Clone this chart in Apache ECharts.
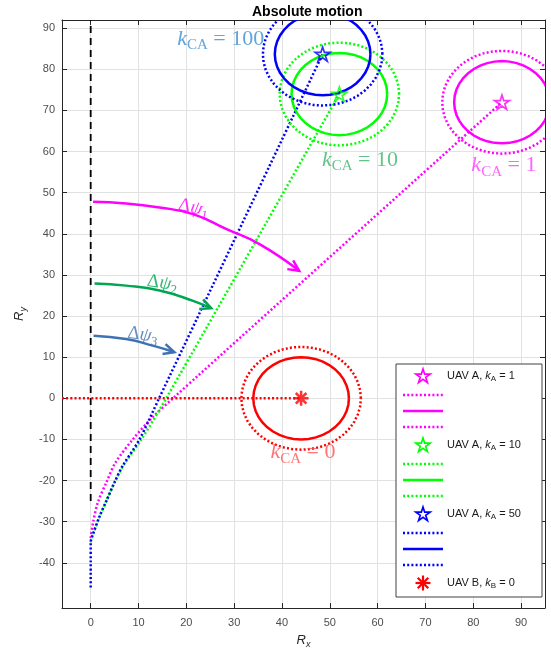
<!DOCTYPE html>
<html>
<head>
<meta charset="utf-8">
<script src="https://cdn.jsdelivr.net/npm/echarts@6/dist/echarts.min.js"></script>
<style>
  html, body { margin: 0; padding: 0; background: #fff; }
  #chart { width: 551px; height: 654px; }
</style>
</head>
<body>
<div id="chart"></div>
<script>
// ---- axis extents and ticks ----
const xExtent = [-6, 95];
const yExtent = [-51, 92];
const xTicks = [0, 10, 20, 30, 40, 50, 60, 70, 80, 90];
const yTicks = [-40, -30, -20, -10, 0, 10, 20, 30, 40, 50, 60, 70, 80, 90];

// ---- trajectories ----
const pathA1 = [[0, -34], [0.5, -30.2], [1.5, -25.3], [3.3, -20.4], [5.2, -15.6], [8.8, -10], [12.6, -5], [17.2, 0], [86, 72]];
const pathA10 = [[0, -35], [0.5, -33], [1.9, -28.6], [3.3, -24.9], [5, -20.4], [6.8, -16.4], [10.6, -10], [15.8, 0], [52, 74]];
const pathA50 = [[0, -46], [0, -40], [0, -35], [0.5, -33], [1.9, -28.6], [3.3, -24.9], [5, -20.4], [6.7, -16.4], [10.2, -10], [14.3, 0], [48.5, 83.7]];
const pathB0 = [[-6, 0], [44, 0]];
const refLineX0 = [[0, -25], [0, 92]];

// ---- final positions ----
const posA1 = [86, 72];
const posA10 = [52, 74];
const posA50 = [48.5, 83.7];
const posB0 = [44, 0];

// ---- safety circles ----
const innerRadius = 10;
const outerRadius = 12.5;

// ---- heading-change arcs ----
const arcPsi1 = [[0.5, 47.8], [7.4, 47.4], [14.4, 46.4], [21.4, 44.8], [28.3, 41.2], [35.3, 37.5], [43.6, 31.0]];
const arcPsi2 = [[0.8, 27.9], [7.4, 27.4], [14.4, 26.2], [21.4, 23.7], [25.2, 21.9]];
const arcPsi3 = [[0.6, 15.2], [7.4, 14.4], [13, 12.8], [17.5, 11.2]];

// ---- text annotations ----
const gainLabels = [
  [27.2, 87.4, '100'],
  [56.3, 58.0, '10'],
  [86.4, 56.6, '1'],
  [44.4, -13.1, '0']
];
const psiLabels = [
  [21.5, 46.3, '1', -12],
  [15.0, 28.0, '2', -8],
  [10.9, 15.4, '3', -8]
];

// ---- legend entries ----
const legendGains = ['1', '10', '50'];

const MAGENTA = '#ff00ff', GREEN = '#00ff00', BLUE = '#0000ff', RED = '#ff0000';
const gainLabelColors = ['#3a8fd3', '#3cb56b', '#ff3cff', '#ff5252'];
const psiColors = ['#ff00ff', '#00a651', '#3f72b5'];

// unit pentagram outline (outer radius 1)
const STAR_PTS = [[0, -1], [0.2245, -0.309], [0.951, -0.309], [0.3633, 0.118], [0.588, 0.809], [0, 0.382], [-0.588, 0.809], [-0.3633, 0.118], [-0.951, -0.309], [-0.2245, -0.309]];
const STAR = 'M' + STAR_PTS.map(p => p.join(',')).join(' L') + ' Z';
const ASTER_SEGS = [[-1, 0, 1, 0], [0, -1, 0, 1], [-0.707, -0.707, 0.707, 0.707], [-0.707, 0.707, 0.707, -0.707]];
const ASTER = ASTER_SEGS.map(s => 'M' + s[0] + ',' + s[1] + ' L' + s[2] + ',' + s[3]).join(' ');

const chart = echarts.init(document.getElementById('chart'), null, { renderer: 'canvas' });

const serif = 'Liberation Serif';
const sans = 'Liberation Sans';

function dottedLine(name, data, color) {
  return {
    name, type: 'line', data, showSymbol: false, symbol: 'none', smooth: 0.3,
    lineStyle: { color, width: 2.5, type: [2, 2.2] }, z: 3, silent: true
  };
}

function circleSeries() {
  const items = [];
  const centers = [posA1, posA10, posA50, posB0];
  const colors = [MAGENTA, GREEN, BLUE, RED];
  centers.forEach((c, i) => {
    items.push({ value: [c[0], c[1], outerRadius, 1], color: colors[i] });
    items.push({ value: [c[0], c[1], innerRadius, 0], color: colors[i] });
  });
  return {
    type: 'custom', coordinateSystem: 'cartesian2d', clip: true, z: 4, silent: true,
    data: items.map(d => d.value),
    renderItem(params, api) {
      const cx = api.value(0), cy = api.value(1), r = api.value(2), dotted = api.value(3);
      const pts = [];
      const N = 40;
      for (let k = 0; k <= N; k++) {
        const a = 2 * Math.PI * k / N;
        pts.push(api.coord([cx + r * Math.cos(a), cy + r * Math.sin(a)]));
      }
      return {
        type: 'polyline', shape: { points: pts },
        style: { stroke: items[params.dataIndex].color, lineWidth: 2.5, fill: null, lineDash: dotted ? [2, 2.2] : null }
      };
    }
  };
}

function arcSeries(data, color) {
  return {
    type: 'line', data, symbol: 'none', smooth: true, silent: true, z: 5,
    lineStyle: { color, width: 2.5 }
  };
}

function arrowHeads() {
  const arcs = [arcPsi1, arcPsi2, arcPsi3];
  const data = arcs.map(a => {
    const tip = a[a.length - 1], prev = a[a.length - 2];
    return [tip[0], tip[1], prev[0], prev[1]];
  });
  return {
    type: 'custom', coordinateSystem: 'cartesian2d', clip: false, z: 5, silent: true,
    data,
    renderItem(params, api) {
      const tip = api.coord([api.value(0), api.value(1)]);
      const from = api.coord([api.value(2), api.value(3)]);
      const ang = Math.atan2(tip[1] - from[1], tip[0] - from[0]);
      const L = 12, h = 0.45;
      const p1 = [tip[0] - L * Math.cos(ang - h), tip[1] - L * Math.sin(ang - h)];
      const p2 = [tip[0] - L * Math.cos(ang + h), tip[1] - L * Math.sin(ang + h)];
      return {
        type: 'polyline', shape: { points: [p1, tip, p2] },
        style: { stroke: psiColors[params.dataIndex], lineWidth: 2.5, fill: null }
      };
    }
  };
}

function starSeries(pos, color) {
  return {
    type: 'scatter', data: [pos], symbol: 'path://' + STAR, symbolSize: 15, symbolKeepAspect: true,
    itemStyle: { color: 'rgba(255,255,255,0)', borderColor: color, borderWidth: 1.7 }, z: 6, silent: true
  };
}

function gainLabelSeries() {
  return {
    type: 'scatter', symbolSize: 0, silent: true, z: 7,
    data: gainLabels.map((g, i) => ({
      value: [g[0], g[1]],
      label: {
        show: true, position: 'inside',
        formatter: '{k|k}{s|CA}{n| = ' + g[2] + '}',
        rich: {
          k: { fontFamily: serif, fontStyle: 'italic', fontSize: 22, color: gainLabelColors[i], lineHeight: 28, verticalAlign: 'middle' },
          s: { fontFamily: serif, fontSize: 15, color: gainLabelColors[i], lineHeight: 19, verticalAlign: 'bottom' },
          n: { fontFamily: serif, fontSize: 22, color: gainLabelColors[i], lineHeight: 28, verticalAlign: 'middle' }
        }
      }
    }))
  };
}

function psiLabelSeries() {
  return {
    type: 'scatter', symbolSize: 0, silent: true, z: 7,
    data: psiLabels.map((p, i) => ({
      value: [p[0], p[1]],
      label: {
        show: true, position: 'inside', rotate: p[3],
        formatter: '{d|Δ}{p|ψ}{s|' + p[2] + '}',
        rich: {
          d: { fontFamily: serif, fontSize: 19, color: psiColors[i], lineHeight: 24, verticalAlign: 'middle' },
          p: { fontFamily: serif, fontStyle: 'italic', fontSize: 19, color: psiColors[i], lineHeight: 24, verticalAlign: 'middle' },
          s: { fontFamily: serif, fontSize: 13, color: psiColors[i], lineHeight: 14, verticalAlign: 'bottom' }
        }
      }
    }))
  };
}

// ---- legend drawn as a graphic box ----
function legendGraphic() {
  const children = [];
  const Z = 100;
  const left = 396, top = 364, w = 146, h = 233;
  children.push({ type: 'rect', z: Z, shape: { x: left, y: top, width: w, height: h }, style: { fill: '#fff', stroke: '#404040', lineWidth: 1 } });
  const colors = [MAGENTA, GREEN, BLUE];
  const symX = 423, lx0 = 403, lx1 = 443, tx = 447, R = 7.5;
  const textRich = {
    n: { fontFamily: sans, fontSize: 11, fill: '#1a1a1a', lineHeight: 14, verticalAlign: 'middle' },
    i: { fontFamily: sans, fontStyle: 'italic', fontSize: 11, fill: '#1a1a1a', lineHeight: 14, verticalAlign: 'middle' },
    s: { fontFamily: sans, fontSize: 8, fill: '#1a1a1a', lineHeight: 8, verticalAlign: 'bottom' }
  };
  legendGains.forEach((g, k) => {
    const base = 376 + k * 69;
    children.push({
      type: 'polygon', z: Z + 1, shape: { points: STAR_PTS.map(p => [symX + R * p[0], base + 0.5 + R * p[1]]) },
      style: { fill: null, stroke: colors[k], lineWidth: 1.7 }
    });
    children.push({ type: 'text', z: Z + 1, x: tx, y: base, style: { text: '{n|UAV A, }{i|k}{s|A}{n| = ' + g + '}', rich: textRich, verticalAlign: 'middle', align: 'left' } });
    [19, 35, 51].forEach((dy, j) => {
      children.push({ type: 'line', z: Z + 1, shape: { x1: lx0, y1: base + dy, x2: lx1, y2: base + dy }, style: { stroke: colors[k], lineWidth: 2.5, lineDash: j === 1 ? null : [2, 2.2] } });
    });
  });
  const rb = 376 + 3 * 69;
  ASTER_SEGS.forEach(s => {
    children.push({ type: 'line', z: Z + 1, shape: { x1: symX + R * s[0], y1: rb + R * s[1], x2: symX + R * s[2], y2: rb + R * s[3] }, style: { stroke: RED, lineWidth: 2.2 } });
  });
  children.push({ type: 'text', z: Z + 1, x: tx, y: rb, style: { text: '{n|UAV B, }{i|k}{s|B}{n| = 0}', rich: textRich, verticalAlign: 'middle', align: 'left' } });
  return { type: 'group', z: Z, children };
}

const axisLineStyle = { color: '#262626', width: 1 };
const nameRich = {
  r: { fontFamily: sans, fontStyle: 'italic', fontSize: 13, color: '#262626', lineHeight: 18, verticalAlign: 'middle' },
  s: { fontFamily: sans, fontStyle: 'italic', fontSize: 9, color: '#262626', lineHeight: 10, verticalAlign: 'bottom' }
};

chart.setOption({
  animation: false,
  backgroundColor: '#fff',
  title: {
    text: 'Absolute motion', left: 247, top: 0,
    textStyle: { fontFamily: sans, fontSize: 14, fontWeight: 'bold', color: '#000' }
  },
  grid: { left: 62, right: 6, top: 20, bottom: 46, containLabel: false },
  xAxis: [
    {
      type: 'value', position: 'bottom', min: xExtent[0], max: xExtent[1], splitNumber: 10,
      axisLine: { show: true, onZero: false, lineStyle: axisLineStyle },
      axisTick: { show: true, inside: true, length: 5, customValues: xTicks, lineStyle: axisLineStyle },
      axisLabel: { customValues: xTicks, color: '#4d4d4d', fontSize: 11, fontFamily: sans, margin: 9 },
      splitLine: { show: true, lineStyle: { color: '#e2e2e2', width: 1 } },
      name: '{r|R}{s|x}', nameLocation: 'middle', nameGap: 23, nameTextStyle: { rich: nameRich }
    },
    {
      type: 'value', position: 'top', min: xExtent[0], max: xExtent[1], splitNumber: 10,
      axisLine: { show: true, onZero: false, lineStyle: axisLineStyle },
      axisTick: { show: true, inside: true, length: 5, customValues: xTicks, lineStyle: axisLineStyle },
      axisLabel: { show: false }, splitLine: { show: false }
    }
  ],
  yAxis: [
    {
      type: 'value', position: 'left', min: yExtent[0], max: yExtent[1], splitNumber: 14,
      axisLine: { show: true, onZero: false, lineStyle: axisLineStyle },
      axisTick: { show: true, inside: true, length: 5, customValues: yTicks, lineStyle: axisLineStyle },
      axisLabel: { customValues: yTicks, color: '#4d4d4d', fontSize: 11, fontFamily: sans, margin: 7 },
      splitLine: { show: true, lineStyle: { color: '#e2e2e2', width: 1 } },
      name: '{r|R}{s|y}', nameLocation: 'middle', nameGap: 34, nameTextStyle: { rich: nameRich }
    },
    {
      type: 'value', position: 'right', min: yExtent[0], max: yExtent[1], splitNumber: 14,
      axisLine: { show: true, onZero: false, lineStyle: axisLineStyle },
      axisTick: { show: true, inside: true, length: 5, customValues: yTicks, lineStyle: axisLineStyle },
      axisLabel: { show: false }, splitLine: { show: false }
    }
  ],
  series: [
    {
      type: 'line', data: refLineX0, symbol: 'none', silent: true, z: 2,
      lineStyle: { color: '#000', width: 1.8, type: [7, 5] }
    },
    dottedLine('A1', pathA1, MAGENTA),
    dottedLine('A10', pathA10, GREEN),
    dottedLine('A50', pathA50, BLUE),
    dottedLine('B0', pathB0, RED),
    circleSeries(),
    arcSeries(arcPsi1, psiColors[0]),
    arcSeries(arcPsi2, psiColors[1]),
    arcSeries(arcPsi3, psiColors[2]),
    arrowHeads(),
    starSeries(posA1, MAGENTA),
    starSeries(posA10, GREEN),
    starSeries(posA50, BLUE),
    {
      type: 'scatter', data: [posB0], symbol: 'path://' + ASTER, symbolSize: 15, silent: true, z: 6,
      itemStyle: { color: 'rgba(0,0,0,0)', borderColor: RED, borderWidth: 2.5 }
    },
    gainLabelSeries(),
    psiLabelSeries()
  ],
  graphic: [legendGraphic()]
});
</script>
</body>
</html>
